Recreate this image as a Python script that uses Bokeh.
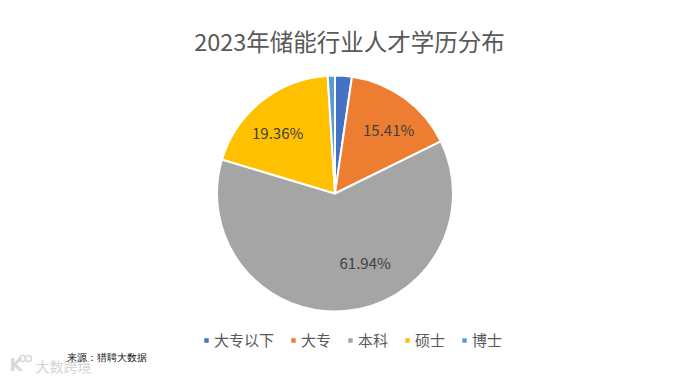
import math
from bokeh.plotting import figure
from bokeh.models import ColumnDataSource, Legend, LegendItem, Range1d
from bokeh.core.properties import value
from bokeh.embed import file_html
from bokeh.resources import INLINE

categories = ["大专以下", "大专", "本科", "硕士", "博士"]
shares = [2.3, 15.41, 61.94, 19.36, 0.99]
labels = ["", "15.41%", "61.94%", "19.36%", ""]
label_dx = [0, 6.5, 23.5, -7.5, 0]
label_dy = [0, -1, 11, -2, 0]
colors = ["#4472C4", "#ED7D31", "#A5A5A5", "#FFC000", "#5B9BD5"]
title_text = "2023年储能行业人才学历分布"
source_text = "来源：猎聘大数据"
watermark_text = "大数跨境"

FONT = "Noto Sans CJK SC"
W, H = 682, 377
cx, cy, R = 334.5, H - 193, 118

p = figure(width=W, height=H, x_range=Range1d(0, W), y_range=Range1d(0, H),
           output_backend="svg", toolbar_location=None, min_border=0,
           x_axis_location=None, y_axis_location=None, outline_line_color=None,
           background_fill_color="white", border_fill_color="white")
p.grid.visible = False

total = sum(shares)
start = math.pi / 2
items, lx, ly, lt = [], [], [], []
for cat, v, lab, col, dx, dy in zip(categories, shares, labels, colors, label_dx, label_dy):
    sweep = 2 * math.pi * v / total
    end = start - sweep
    r = p.wedge(x=[cx], y=[cy], radius=R, start_angle=[end], end_angle=[start],
                fill_color=col, line_color="white", line_width=2)
    items.append(LegendItem(label=value(cat), renderers=[r]))
    if lab:
        mid = (start + end) / 2
        lx.append(cx + 0.68 * R * math.cos(mid) + dx)
        ly.append(cy + 0.68 * R * math.sin(mid) + dy)
        lt.append(lab)
    start = end

p.text(x=lx, y=ly, text=lt, text_font=value(FONT), text_font_size="15px",
       text_color="#404040", text_align="center", text_baseline="middle")
p.text(x=[349], y=[H - 40], text=[title_text], text_font=value(FONT), text_font_size="23.5px",
       text_color="#595959", text_align="center", text_baseline="middle")

# faint watermark in the lower-left corner
p.text(x=[9], y=[H - 364], text=["K"], text_font=value("DejaVu Sans"), text_font_size="17px",
       text_color="#d8d8d8", text_align="left", text_baseline="middle", text_font_style="bold")
p.circle(x=[22, 28], y=[H - 358, H - 358], radius=3, fill_color=None, line_color="#d8d8d8", line_width=1.5)
p.text(x=[35], y=[H - 365], text=[watermark_text], text_font=value(FONT), text_font_size="14px",
       text_color="#d4d4d4", text_align="left", text_baseline="middle")
p.text(x=[66], y=[H - 357], text=[source_text], text_font=value("Liberation Serif"), text_font_size="9.6px",
       text_color="#111111", text_align="left", text_baseline="middle")

legend = Legend(items=items, orientation="horizontal", location=(202, 27),
                border_line_color=None, background_fill_alpha=0,
                glyph_width=8, glyph_height=8, label_text_font=FONT,
                label_text_font_size="15px", label_text_color="#595959",
                spacing=15, padding=0, margin=0, label_standoff=4)
p.add_layout(legend, "center")

open("out.html", "w").write(file_html(p, INLINE))
